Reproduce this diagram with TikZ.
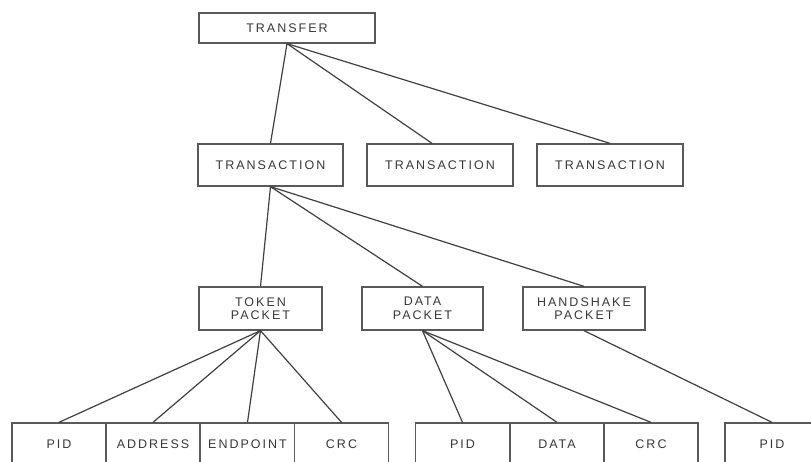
\documentclass[tikz,border=0pt]{standalone}
\usepackage{fontspec}
\setmainfont[LetterSpace=16]{Liberation Sans}
\begin{document}
\begin{tikzpicture}[x=1pt,y=-1pt,
  box/.style={draw=black!65, line width=1.3pt, inner sep=0pt, text=black!78,
    font=\fontsize{12.5}{13.5}\selectfont, align=center},
  field/.style={box, minimum width=94pt, minimum height=42pt},
  link/.style={draw=black!75, line width=1.2pt}]
\useasboundingbox (0,0) rectangle (811,462);
\clip (0,0) rectangle (811,462);
\fill[white] (0,0) rectangle (811,462);

% top level
\node[box, minimum width=176pt, minimum height=30pt] (transfer) at (287,28) {TRANSFER};

% transactions
\node[box, minimum width=145pt, minimum height=42pt] (tr1) at (270.5,165) {TRANSACTION};
\node[box, minimum width=146pt, minimum height=42pt] (tr2) at (440,165) {TRANSACTION};
\node[box, minimum width=146pt, minimum height=42pt] (tr3) at (610,165) {TRANSACTION};

% packets
\node[box, minimum width=123pt, minimum height=43pt] (tok) at (260.5,308.5) {TOKEN\\PACKET};
\node[box, minimum width=121pt, minimum height=43pt] (dat) at (422.5,308.5) {DATA\\PACKET};
\node[box, minimum width=122pt, minimum height=43pt] (hsk) at (584,308.5) {HANDSHAKE\\PACKET};

% packet fields
\node[field] (pid1) at (59,444) {PID};
\node[field] (addr) at (153,444) {ADDRESS};
\node[field] (endp) at (247.5,444) {ENDPOINT};
\node[field] (crc1) at (341.5,444) {CRC};
\node[field] (pid2) at (462.5,444) {PID};
\node[field] (data) at (557,444) {DATA};
\node[field] (crc2) at (651,444) {CRC};
\node[field] (pid3) at (772,444) {PID};

% hierarchy links
\draw[link] (transfer.south) -- (tr1.north);
\draw[link] (transfer.south) -- ([xshift=-8pt]tr2.north);
\draw[link] (transfer.south) -- (tr3.north);

\draw[link] (tr1.south) -- (tok.north);
\draw[link] (tr1.south) -- (dat.north);
\draw[link] (tr1.south) -- (hsk.north);

\draw[link] (tok.south) -- (pid1.north);
\draw[link] (tok.south) -- (addr.north);
\draw[link] (tok.south) -- (endp.north);
\draw[link] (tok.south) -- (crc1.north);

\draw[link] (dat.south) -- (pid2.north);
\draw[link] (dat.south) -- (data.north);
\draw[link] (dat.south) -- (crc2.north);

\draw[link] (hsk.south) -- (pid3.north);
\end{tikzpicture}
\end{document}
